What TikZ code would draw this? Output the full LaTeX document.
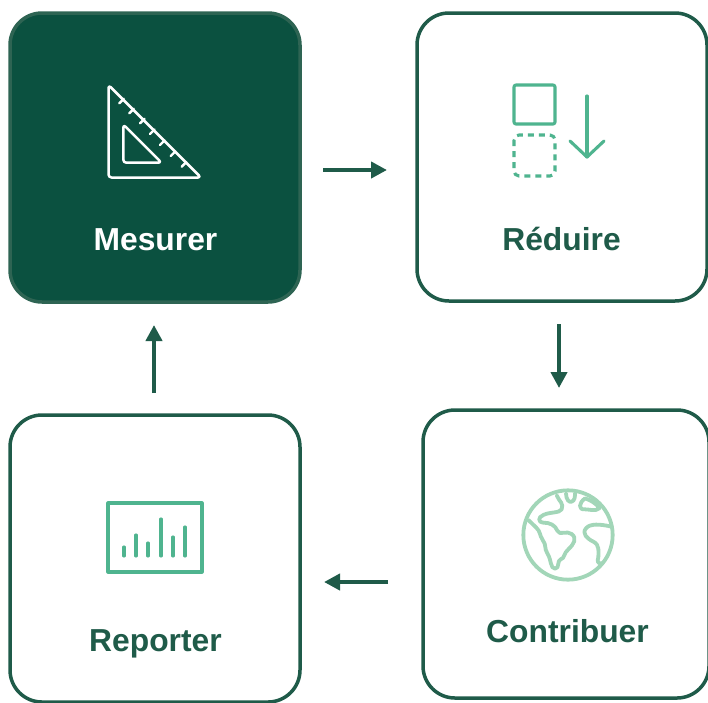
\documentclass[tikz,border=0pt]{standalone}
\usepackage{fontspec}
\setmainfont{Liberation Sans}
\usetikzlibrary{arrows.meta}
\definecolor{dk}{HTML}{0B5140}
\definecolor{bd}{HTML}{1F5B49}
\definecolor{ic}{HTML}{4FB48F}
\definecolor{gl}{HTML}{A2D6B8}
\definecolor{brd}{HTML}{2E6453}
\tikzset{
 x=1pt,y=-1pt,
 card/.style={draw=bd,line width=3.5pt,fill=white,rounded corners=32pt},
 darkcard/.style={card,draw=brd,fill=dk},
 lab/.style={font=\bfseries\fontsize{31.8}{36}\selectfont,text=bd,inner sep=0pt,anchor=base},
 flow/.style={draw=bd,line width=4pt,-{Triangle[length=16pt,width=16pt]}},
 wico/.style={draw=white,line width=2.5pt,line join=round,line cap=round,rounded corners=3pt},
 gico/.style={draw=ic,line width=3.1pt,line join=round},
 glob/.style={draw=gl,line width=3.8pt,line join=round,line cap=round},
}
\begin{document}
\begin{tikzpicture}
\useasboundingbox (0,0) rectangle (708,702);
\clip (0,0) rectangle (708,702);
% cards
\draw[darkcard] (10,13) rectangle (300,302);
\draw[card] (417,13) rectangle (707,301);
\draw[card] (423,410) rectangle (709,698);
\draw[card] (10,415) rectangle (300,702);
% labels
\node[lab,text=white] (m) at (155.5,250) {Mesurer};
\node[lab] (r) at (561.5,250) {Réduire};
\node[lab] (c) at (567.5,642) {Contribuer};
\node[lab] (p) at (155.5,651) {Reporter};
% arrows
\coordinate (a1) at (323,170); \coordinate (a2) at (387,170);
\coordinate (b1) at (559,324); \coordinate (b2) at (559,388);
\coordinate (c1) at (388,582); \coordinate (c2) at (324,582);
\coordinate (d1) at (154,393); \coordinate (d2) at (154,325);
\draw[flow] (a1) -- (a2);
\draw[flow] (b1) -- (b2);
\draw[flow] (c1) -- (c2);
\draw[flow] (d1) -- (d2);
% set square
\draw[wico] (108.5,85) -- (201,177.5) -- (108.5,177.5) -- cycle;
\draw[wico] (123.3,124.5) -- (161.5,162.7) -- (123.3,162.7) -- cycle;
\foreach \a/\b in {119.3/103.3,129.3/113.3,140/123.3,150/134,160/145,170.7/156,181.7/166.7}
  \draw[white,line width=2.4pt,line cap=round] (\a,\b) -- ++(4.5,-4.5);
% reduce
\draw[gico,rounded corners=2pt] (514,85) rectangle (555,124);
\draw[gico,rounded corners=5pt,dash pattern=on 6pt off 5pt] (514,135) rectangle (555,176);
\draw[gico,line cap=round] (587,96) -- (587,157);
\draw[gico,line cap=round] (570,141) -- (587,157) -- (604,141);
% report
\draw[gico] (108,503) rectangle (202,572);
\foreach \x/\t in {124/547,136/535,148/543,161/519,173/537,185/527}
  \draw[ic,line width=3.1pt,line cap=round] (\x,556) -- (\x,\t);
% globe
\begin{scope}[shift={(500,470)},x=0.3333pt,y=-0.3333pt]
\draw[glob] (204,195) circle[radius=134];
\draw[glob] (170,76) .. controls (178,95) and (192,100) .. (185,118) .. controls (178,130) and (150,125) .. (130,135)
 .. controls (112,142) and (115,158) .. (130,158) .. controls (150,158) and (165,165) .. (172,182)
 .. controls (178,198) and (200,180) .. (215,192) .. controls (232,205) and (222,222) .. (205,238)
 .. controls (190,250) and (195,265) .. (182,268) .. controls (170,272) and (180,295) .. (165,296)
 .. controls (150,295) and (155,270) .. (142,250) .. controls (132,235) and (140,225) .. (128,210)
 .. controls (118,195) and (122,185) .. (108,172) -- (85,150);
\draw[glob] (198,70) .. controls (198,90) and (208,98) .. (215,95) .. controls (225,92) and (225,78) .. (225,70);
\draw[glob] (255,85) .. controls (235,100) and (235,120) .. (255,118) .. controls (270,118) and (285,125) .. (298,115) .. controls (290,100) and (270,90) .. (255,85);
\draw[glob] (335,170) .. controls (300,162) and (270,160) .. (258,175) .. controls (245,190) and (260,205) .. (280,215) .. controls (300,225) and (295,245) .. (295,262) .. controls (290,275) and (295,282) .. (305,280);
\end{scope}
\end{tikzpicture}
\end{document}
